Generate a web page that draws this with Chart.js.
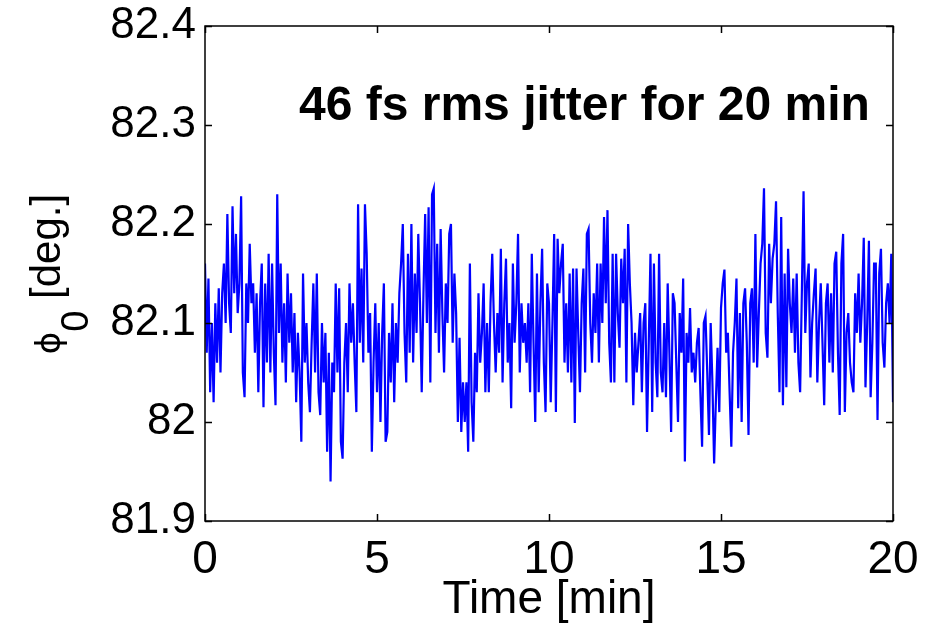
<!DOCTYPE html>
<html>
<head>
<meta charset="utf-8">
<title>Phase jitter</title>
<script src="https://cdn.jsdelivr.net/npm/chart.js@4.4.1/dist/chart.umd.min.js"></script>
<style>
  html, body { margin: 0; padding: 0; background: #fff; }
  #wrap { width: 946px; height: 623px; }
</style>
</head>
<body>
<div id="wrap"><canvas id="chart" width="946" height="623"></canvas></div>
<script>
// Phase readings, one every 0.05 min
const SAMPLE_STEP = 0.05;
const phase = [
  82.16, 82.07, 82.145, 82.03, 82.10, 82.02, 82.12, 82.06, 82.135, 82.05,
  82.13, 82.16, 82.10, 82.21, 82.12, 82.09, 82.218, 82.13, 82.19, 82.11,
  82.14, 82.228, 82.05, 82.025, 82.14, 82.10, 82.18, 82.12, 82.14, 82.07,
  82.13, 82.03, 82.12, 82.16, 82.015, 82.14, 82.06, 82.17, 82.05, 82.16,
  82.07, 82.017, 82.23, 82.09, 82.16, 82.06, 82.12, 82.04, 82.15, 82.08,
  82.13, 82.05, 82.11, 82.02, 82.09, 82.05, 81.98, 82.15, 82.06, 82.10,
  82.04, 82.01, 82.08, 82.14, 82.05, 82.15, 82.03,
  82.007, 82.10, 82.04,
  82.09, 81.97, 82.07, 81.94, 82.06, 82.03, 82.14, 82.05, 82.135, 81.98,
  81.963, 82.06, 82.10, 82.03, 82.14, 82.08, 82.12, 82.06, 82.01, 82.22,
  82.08, 82.155, 82.06, 82.22, 82.17, 82.07, 82.11, 81.97, 82.06, 82.12,
  82.03, 82.10, 82.00, 82.09, 82.14, 81.98, 81.99, 82.09, 82.04, 82.12,
  82.02, 82.10, 82.06, 82.13, 82.16, 82.20, 82.09, 82.04, 82.17, 82.07,
  82.20, 82.06, 82.15, 82.09, 82.19, 82.12, 82.03, 82.13, 82.21, 82.10,
  82.217,
  82.04, 82.23, 82.236, 82.09, 82.18, 82.07, 82.195, 82.11, 82.05,
  82.14, 82.10, 82.19, 82.20, 82.08, 82.15, 82.11, 82.00, 82.085, 81.99,
  82.04, 82.00, 82.04, 81.97, 82.16, 82.02, 81.98, 82.07, 82.03, 82.13,
  82.06, 82.09, 82.14, 82.03, 82.10, 82.03, 82.12, 82.17, 82.10, 82.05,
  82.11, 82.07, 82.175, 82.04, 82.12, 82.165, 82.06, 82.10, 82.014, 82.16,
  82.08, 82.12, 82.19, 82.05, 82.12, 82.08, 82.10, 82.06, 82.12, 82.03,
  82.17, 82.08, 82.00, 82.15, 82.03, 82.12, 82.175, 82.06, 82.01, 82.14,
  82.12, 82.02, 82.10, 82.19, 82.01, 82.185, 82.13, 82.16, 82.18, 82.06,
  82.12, 82.05, 82.15, 82.04, 82.155, 81.999, 82.155, 82.09, 82.03, 82.12,
  82.155, 82.05, 82.19, 82.195, 82.10, 82.06, 82.13, 82.09, 82.16, 82.06,
  82.16, 82.10, 82.207, 82.12, 82.214, 82.08, 82.04, 82.17, 82.04, 82.17,
  82.11, 82.075, 82.165, 82.12, 82.175, 82.04, 82.20, 82.14, 82.10, 82.017,
  82.09, 82.05, 82.08, 82.11, 82.03, 82.10, 82.12, 81.99, 82.08, 82.17,
  82.01, 82.16, 82.06, 82.025, 82.17, 82.05,
  82.03, 82.10, 82.025, 82.14,
  82.07, 81.99, 82.13, 82.12, 82.06, 82.00, 82.11, 82.07, 82.145, 81.96,
  82.09, 82.06, 82.115, 82.05, 82.07, 82.04, 82.08, 82.095, 82.03, 81.975,
  82.10, 82.107, 82.05, 81.987, 82.10, 82.04, 81.958, 82.02, 82.075, 82.01,
  82.115, 82.14, 82.154, 82.07, 82.09, 82.03, 81.975, 82.07, 82.10, 82.145,
  82.014, 82.11, 82.00, 82.12, 82.135, 82.08, 81.987, 82.12, 82.135, 82.06,
  82.19, 82.055, 82.11, 82.16, 82.18, 82.236, 82.09, 82.065, 82.18, 82.12,
  82.165, 82.18, 82.223,
  82.11, 82.03, 82.207, 82.017, 82.15, 82.035, 82.175,
  82.12, 82.09, 82.145, 82.07, 82.15, 82.06, 82.03, 82.13, 82.233, 82.09,
  82.14, 82.16, 82.045, 82.10, 82.13, 82.155, 82.04, 82.10, 82.14, 82.08,
  82.017, 82.12, 82.14, 82.06, 82.13, 82.05, 82.16, 82.172, 82.07, 82.007,
  82.16, 82.19, 82.01, 82.09, 82.11, 82.06, 82.04, 82.03, 82.13, 82.09,
  82.15, 82.08, 82.12, 82.186, 82.035, 82.10, 82.183, 82.025, 82.08, 82.16,
  82.16, 82.002, 82.15, 82.175, 82.08, 82.055, 82.12, 82.14, 82.10, 82.17,
  82.02
];

const xTicks = [0, 5, 10, 15, 20];
const yTicks = [81.9, 82, 82.1, 82.2, 82.3, 82.4];
const annotation = "46 fs rms jitter for 20 min";

const FONT = "'Liberation Sans', Arial, Helvetica, sans-serif";

// box around the axes with inward ticks on all four sides, matlab style
const boxTicks = {
  id: "boxTicks",
  afterDatasetsDraw(chart) {
    const { ctx, chartArea: a, scales } = chart;
    const len = 7;
    ctx.save();
    ctx.strokeStyle = "#000";
    ctx.lineWidth = 1.5;
    ctx.beginPath();
    scales.x.ticks.forEach((t, i) => {
      const px = Math.round(scales.x.getPixelForTick(i)) + 0.5;
      ctx.moveTo(px, a.bottom); ctx.lineTo(px, a.bottom - len);
      ctx.moveTo(px, a.top); ctx.lineTo(px, a.top + len);
    });
    scales.y.ticks.forEach((t, i) => {
      const py = Math.round(scales.y.getPixelForTick(i)) + 0.5;
      ctx.moveTo(a.left, py); ctx.lineTo(a.left + len, py);
      ctx.moveTo(a.right, py); ctx.lineTo(a.right - len, py);
    });
    ctx.stroke();
    ctx.strokeRect(a.left, a.top, a.right - a.left, a.bottom - a.top);

    // annotation text
    ctx.fillStyle = "#000";
    ctx.font = "bold 48px " + FONT;
    ctx.textBaseline = "alphabetic";
    ctx.textAlign = "left";
    ctx.fillText(annotation, 299, 120);

    // y axis label: phi with subscript 0, rotated
    ctx.translate(60, 274);
    ctx.rotate(-Math.PI / 2);
    const phi = "\u03D5";
    ctx.font = "34px 'DejaVu Sans', " + FONT;
    const wPhi = ctx.measureText(phi).width;
    ctx.font = "38px " + FONT;
    const wSub = ctx.measureText("0").width;
    ctx.font = "42px " + FONT;
    const wRest = ctx.measureText(" [deg.]").width;
    let x0 = -(wPhi + wSub + wRest) / 2;
    ctx.font = "34px 'DejaVu Sans', " + FONT;
    ctx.fillText(phi, x0, 0);
    x0 += wPhi;
    ctx.font = "38px " + FONT;
    ctx.fillText("0", x0, 28);
    x0 += wSub;
    ctx.font = "42px " + FONT;
    ctx.fillText(" [deg.]", x0, 0);
    ctx.restore();
  }
};

const points = phase.map((v, i) => ({ x: +(i * SAMPLE_STEP).toFixed(2), y: v }));

new Chart(document.getElementById("chart"), {
  type: "line",
  data: {
    datasets: [{
      data: points,
      borderColor: "#0000ff",
      borderWidth: 2.2,
      pointRadius: 0,
      tension: 0,
      fill: false
    }]
  },
  options: {
    responsive: false,
    animation: false,
    devicePixelRatio: 1,
    layout: { padding: { top: 26, right: 53, left: 0, bottom: 0 } },
    plugins: { legend: { display: false }, tooltip: { enabled: false } },
    scales: {
      x: {
        type: "linear",
        min: 0,
        max: 20,
        afterBuildTicks: s => { s.ticks = xTicks.map(v => ({ value: v })); },
        afterFit: s => { s.height = 102; s.paddingLeft = 0; s.paddingRight = 0; },
        grid: { display: false, drawTicks: false },
        border: { display: false },
        ticks: {
          color: "#000",
          padding: 12,
          maxRotation: 0,
          font: { family: FONT, size: 46 },
          callback: v => String(v)
        },
        title: {
          display: true,
          text: "Time [min]",
          color: "#000",
          padding: { top: 0, bottom: -5 },
          font: { family: FONT, size: 46 }
        }
      },
      y: {
        min: 81.9,
        max: 82.4,
        afterBuildTicks: s => { s.ticks = yTicks.map(v => ({ value: v })); },
        afterFit: s => { s.width = 205; s.paddingTop = 0; s.paddingBottom = 0; },
        grid: { display: false, drawTicks: false },
        border: { display: false },
        ticks: {
          color: "#000",
          padding: 9,
          font: { family: FONT, size: 44 },
          callback: v => String(Number(v.toFixed(1)))
        }
      }
    }
  },
  plugins: [boxTicks]
});
</script>
</body>
</html>
